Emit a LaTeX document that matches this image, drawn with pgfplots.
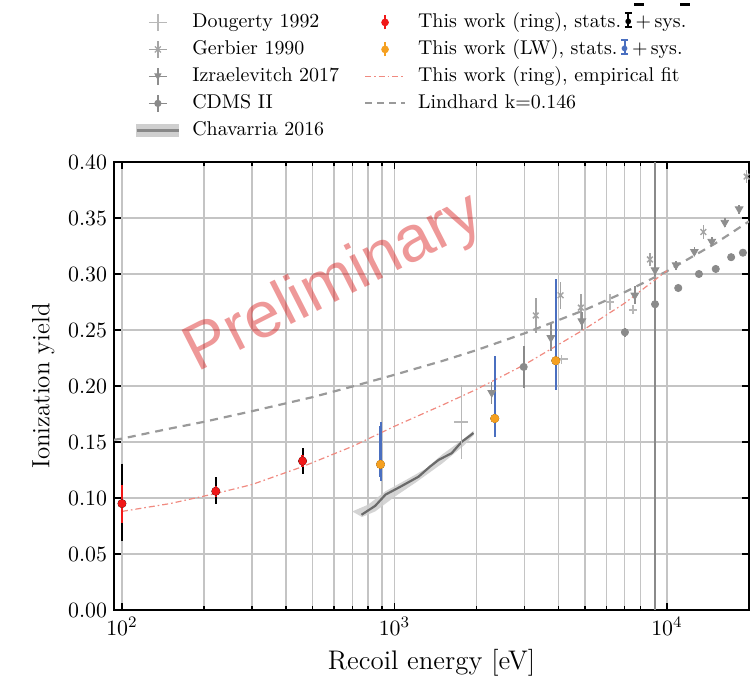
\documentclass[border=0pt]{standalone}
\usepackage{fontspec}
\usepackage{pgfplots}
\pgfplotsset{compat=1.18}
\newfontfamily\prelimfont{Liberation Sans}
\definecolor{ringred}{HTML}{F01818}
\definecolor{lworange}{HTML}{F5A020}
\definecolor{sysblue}{HTML}{4A6FC0}
\definecolor{fitcol}{HTML}{F08A80}
\definecolor{lindcol}{HTML}{9A9A9A}
\definecolor{dougcol}{HTML}{B8B8B8}
\definecolor{gercol}{HTML}{A4A4A4}
\definecolor{izrcol}{HTML}{8E8E8E}
\definecolor{cdmscol}{HTML}{8A8A8A}
\definecolor{chavline}{HTML}{6A6A6A}
\definecolor{chavband}{HTML}{CFCFCF}
\definecolor{gridcol}{HTML}{C4C4C4}
\definecolor{prelim}{HTML}{D91A1A}

\newcommand{\errglyph}[1]{\textcolor{#1}{\makebox[4bp]{%
  \makebox[0pt]{\rule[-0.3bp]{0.9bp}{8bp}}%
  \makebox[0pt]{\rule[-0.3bp]{3.6bp}{0.9bp}}%
  \makebox[0pt]{\rule[6.8bp]{3.6bp}{0.9bp}}%
  \makebox[0pt]{\raisebox{0.6bp}{\textbullet}}}}}
\newcommand{\topdashes}{\makebox[0pt][l]{\hspace{1bp}\rule[10.5bp]{5bp}{1.5bp}\hspace{18bp}\rule[10.5bp]{5bp}{1.5bp}}}

\begin{document}
\begin{tikzpicture}
\begin{axis}[
  scale only axis, width=317.5bp, height=224bp,
  xmode=log, xmin=93.5, xmax=20000, ymin=0, ymax=0.4,
  xtick={100,1000,10000},
  ytick={0,0.05,0.1,0.15,0.2,0.25,0.3,0.35,0.4},
  yticklabel style={/pgf/number format/.cd,fixed,fixed zerofill,precision=2},
  minor y tick num=0,
  tick align=inside, xtick pos=both, ytick pos=both,
  grid=both,
  major grid style={gridcol, line width=0.7bp},
  minor grid style={gridcol, line width=0.7bp},
  axis line style={line width=0.75bp},
  every tick/.style={black, line width=0.6bp},
  major tick length=3.5bp, minor tick length=2bp,
  tick label style={font=\fontsize{11}{13}\selectfont},
  xlabel style={font=\fontsize{13.5}{15}\selectfont},
  ylabel style={font=\fontsize{12.5}{14}\selectfont},
  xlabel={Recoil energy [eV]}, ylabel={Ionization yield},
  legend columns=2,
  legend cell align=left,
  legend style={at={(0.033,1.3426)}, anchor=north west, draw=none, fill=none,
    inner sep=0pt, row sep=0pt, font=\fontsize{10}{12}\selectfont,
    nodes={inner xsep=0pt, inner ysep=1.75bp, text height=7.5bp, text depth=2.5bp},
    /tikz/every odd column/.append style={column sep=6bp},
    /tikz/every even column/.append style={column sep=12.5bp}},
]
% ---- legend ----
\addlegendimage{legend image code/.code={
  \path[draw=none,fill=none] (0bp,-4bp) rectangle (21bp,4bp);
  \draw[dougcol,line width=0.75bp] (6bp,0bp)--(15bp,0bp) (10.5bp,-4.25bp)--(10.5bp,4.25bp);}}
\addlegendentry{Dougerty 1992}
\addlegendimage{legend image code/.code={
  \path[draw=none,fill=none] (0bp,-4bp) rectangle (20bp,4bp);
  \draw[ringred,line width=1.2bp] (10bp,-3.5bp)--(10bp,3.5bp);
  \fill[ringred] (10bp,0bp) circle (1.7bp);}}
\addlegendentry{This work (ring), stats.\,\errglyph{black}\topdashes\,$+$\,sys.}
\addlegendimage{legend image code/.code={
  \path[draw=none,fill=none] (0bp,-4bp) rectangle (21bp,4bp);
  \draw[gercol,line width=0.75bp] (6bp,0bp)--(15bp,0bp) (10.5bp,-4.25bp)--(10.5bp,4.25bp);
  \draw[gercol,line width=0.6bp] (9bp,-1.5bp)--(12bp,1.5bp) (9bp,1.5bp)--(12bp,-1.5bp);}}
\addlegendentry{Gerbier 1990}
\addlegendimage{legend image code/.code={
  \path[draw=none,fill=none] (0bp,-4bp) rectangle (20bp,4bp);
  \draw[lworange,line width=1.2bp] (10bp,-3.5bp)--(10bp,3.5bp);
  \fill[lworange] (10bp,0bp) circle (1.7bp);}}
\addlegendentry{This work (LW), stats.\,\errglyph{sysblue}\,$+$\,sys.}
\addlegendimage{legend image code/.code={
  \path[draw=none,fill=none] (0bp,-4bp) rectangle (21bp,4bp);
  \draw[izrcol,line width=0.75bp] (6bp,0bp)--(15bp,0bp) (10.5bp,-4.25bp)--(10.5bp,4.25bp);
  \fill[izrcol] (9bp,1.3bp)--(12bp,1.3bp)--(10.5bp,-1.5bp)--cycle;}}
\addlegendentry{Izraelevitch 2017}
\addlegendimage{legend image code/.code={
  \path[draw=none,fill=none] (0bp,-4bp) rectangle (20bp,4bp);
  \draw[fitcol,line width=0.6bp,dash pattern=on 3bp off 1.5bp on 0.8bp off 1.5bp] (0bp,0bp)--(20bp,0bp);}}
\addlegendentry{This work (ring), empirical fit}
\addlegendimage{legend image code/.code={
  \path[draw=none,fill=none] (0bp,-4bp) rectangle (21bp,4bp);
  \draw[cdmscol,line width=0.75bp] (6bp,0bp)--(15bp,0bp) (10.5bp,-4.25bp)--(10.5bp,4.25bp);
  \fill[cdmscol] (10.5bp,0bp) circle (1.6bp);}}
\addlegendentry{CDMS II}
\addlegendimage{legend image code/.code={
  \path[draw=none,fill=none] (0bp,-4bp) rectangle (20bp,4bp);
  \draw[lindcol,line width=1bp,dash pattern=on 3.5bp off 2.5bp] (0bp,0bp)--(20bp,0bp);}}
\addlegendentry{Lindhard k=0.146}
\addlegendimage{legend image code/.code={
  \path[draw=none,fill=none] (0bp,-4bp) rectangle (21bp,4bp);
  \fill[chavband] (0bp,-3.2bp) rectangle (21bp,3.2bp);
  \draw[chavline!80,line width=1.5bp] (0bp,0bp)--(21bp,0bp);}}
\addlegendentry{Chavarria 2016}

% ---- watermark ----
\node[rotate=27, text=prelim, text opacity=0.45, font=\prelimfont\fontsize{32.5}{34}\selectfont] at (axis cs:603,0.291) {Preliminary};

% ---- Chavarria 2016 band and line ----
\addplot[forget plot, fill=chavband, draw=none, fill opacity=0.9] coordinates {
 (700,0.088) (800,0.094) (927,0.106) (1100,0.116) (1300,0.126) (1500,0.139) (1800,0.153) (1950,0.160)
 (1950,0.156) (1800,0.147) (1500,0.131) (1200,0.114) (1000,0.101) (850,0.088) (760,0.083)} -- cycle;
\addplot[forget plot, chavline, line width=1.1bp] coordinates {
 (757,0.085) (850,0.093) (927,0.103) (1050,0.110) (1225,0.119) (1350,0.128) (1452,0.134) (1622,0.140) (1762,0.150) (1950,0.158)};

% ---- Dougerty 1992 ----
\addplot[forget plot, only marks, mark=+, mark size=2bp, dougcol, mark options={line width=0.75bp},
  error bars/.cd, x dir=both, x explicit, y dir=both, y explicit, error mark=none,
  error bar style={dougcol, line width=0.75bp}] coordinates {
 (1760,0.168) +- (100,0.033)
 (4100,0.224) +- (230,0.004)
 (6170,0.275) +- (200,0.007)
 (7500,0.268) +- (200,0.004)};

% ---- Gerbier 1990 ----
\addplot[forget plot, only marks, mark=x, mark size=2bp, gercol, mark options={line width=0.75bp},
  error bars/.cd, y dir=both, y explicit, error mark=none,
  error bar style={gercol, line width=0.75bp}] coordinates {
 (3300,0.263) +- (0,0.016)
 (4070,0.281) +- (0,0.012)
 (4830,0.270) +- (0,0.012)
 (8660,0.313) +- (0,0.006)
 (13600,0.3375) +- (0,0.006)
 (19600,0.387) +- (0,0.006)};

% ---- Izraelevitch 2017 ----
\addplot[forget plot, only marks, mark=triangle*, mark size=2.2bp, izrcol, mark options={rotate=180},
  error bars/.cd, y dir=both, y explicit, error mark=none,
  error bar style={izrcol, line width=0.75bp}] coordinates {
 (2275,0.194) +- (0,0.010)
 (3750,0.243) +- (0,0.012)
 (4870,0.258) +- (0,0.008)
 (7620,0.281) +- (0,0.008)
 (9040,0.3035) +- (0,0.005)
 (10800,0.308) +- (0,0.004)
 (12600,0.320) +- (0,0.004)
 (14600,0.329) +- (0,0.004)
 (16300,0.346) +- (0,0.004)
 (18400,0.358) +- (0,0.004)};

% ---- CDMS II ----
\addplot[forget plot, only marks, mark=*, mark size=1.8bp, cdmscol,
  error bars/.cd, y dir=both, y explicit, error mark=none,
  error bar style={cdmscol, line width=0.9bp}] coordinates {
 (2980,0.217) +- (0,0.019)
 (7010,0.248) +- (0,0.004)
 (9040,0.273) += (0,0.2) -= (0,0.3)
 (11000,0.2875) +- (0,0.003)
 (13100,0.300) +- (0,0.003)
 (15100,0.3045) +- (0,0.003)
 (17200,0.315) +- (0,0.003)
 (19000,0.319) +- (0,0.003)};

% ---- Lindhard ----
\addplot[forget plot, lindcol, line width=1.1bp, dash pattern=on 4bp off 3bp] coordinates {
 (93.5,0.152) (100,0.153) (150,0.162) (200,0.168) (300,0.1775) (500,0.190) (700,0.1995)
 (1000,0.210) (1500,0.2224) (2000,0.232) (3000,0.247) (5000,0.268) (7000,0.2838)
 (10000,0.3025) (15000,0.3271) (20000,0.347)};

% ---- empirical fit ----
\addplot[forget plot, fitcol, line width=0.6bp, dash pattern=on 3bp off 1.5bp on 0.8bp off 1.5bp] coordinates {
 (100,0.088) (150,0.095) (221,0.104) (300,0.112) (460,0.128) (700,0.146) (1000,0.164)
 (1500,0.183) (2000,0.197) (3000,0.219) (4000,0.237) (5000,0.251) (7000,0.274) (10000,0.303)};

% ---- This work (LW): sys (blue) and stats (orange) ----
\addplot[forget plot, only marks, mark=none,
  error bars/.cd, y dir=both, y explicit, error mark=-,
  error mark options={sysblue, mark size=2bp, line width=1bp},
  error bar style={sysblue, line width=1.2bp}] coordinates {
 (889,0.130) += (0,0.034) -= (0,0.011)
 (2333,0.171) += (0,0.052) -= (0,0.013)
 (3908,0.2226) += (0,0.069) -= (0,0.0226)};
\addplot[forget plot, only marks, mark=*, mark size=2bp, lworange,
  error bars/.cd, y dir=both, y explicit, error mark=none,
  error bar style={lworange, line width=1.2bp}] coordinates {
 (889,0.130) +- (0,0.004)
 (2333,0.171) +- (0,0.004)
 (3908,0.2226) +- (0,0.004)};

% ---- This work (ring): sys (black) and stats (red) ----
\addplot[forget plot, only marks, mark=none,
  error bars/.cd, y dir=both, y explicit, error mark=-,
  error mark options={black, mark size=2bp, line width=1bp},
  error bar style={black, line width=1bp}] coordinates {
 (100,0.095) += (0,0.032) -= (0,0.030)
 (221,0.106) += (0,0.009) -= (0,0.008)
 (460,0.133) += (0,0.008) -= (0,0.008)};
\addplot[forget plot, only marks, mark=*, mark size=1.9bp, ringred,
  error bars/.cd, y dir=both, y explicit, error mark=none,
  error bar style={ringred, line width=1.3bp}] coordinates {
 (100,0.095) +- (0,0.017)
 (221,0.106) +- (0,0.005)
 (460,0.133) +- (0,0.005)};

\coordinate (SW) at (rel axis cs:0,0);
\coordinate (NE) at (rel axis cs:1,1);
\end{axis}
\pgfresetboundingbox
\path[use as bounding box] ([shift={(-57bp,-33.5bp)}]SW) rectangle ([shift={(3.5bp,81bp)}]NE);
\end{tikzpicture}
\end{document}
